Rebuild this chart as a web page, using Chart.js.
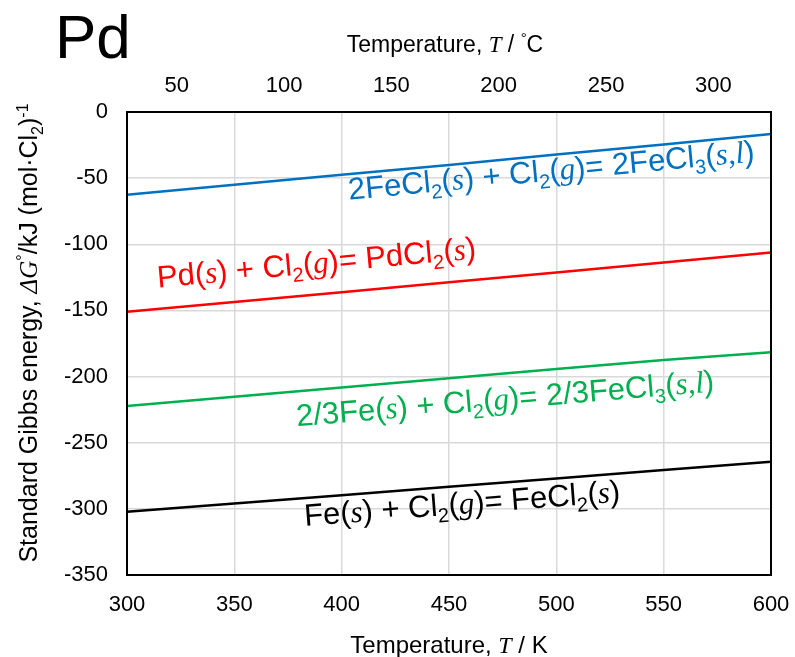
<!DOCTYPE html>
<html>
<head>
<meta charset="utf-8">
<script src="https://cdn.jsdelivr.net/npm/chart.js@4.4.0/dist/chart.umd.min.js"></script>
<style>
    html, body { margin: 0; padding: 0; background: #fff; }
    #wrap { width: 795px; height: 657px; }
</style>
</head>
<body>
<div id="wrap"><canvas id="chart" width="795" height="657"></canvas></div>
<script>
// data (kJ per mol Cl2 vs temperature in K)
const temperatureK = [300, 350, 400, 450, 500, 550, 600];
const feCl2ToFeCl3 = [-62.6, -55, -47.5, -40, -32.2, -24.5, -16.6];
const pdToPdCl2 = [-151, -143.6, -136.2, -128.7, -121.3, -113.8, -106.2];
const feToFeCl3 = [-222.3, -215.3, -208.2, -201.2, -194.3, -187.5, -181.6];
const feToFeCl2 = [-302.2, -296, -289.7, -283.3, -277, -270.6, -264.4];
const celsiusTicks = [50, 100, 150, 200, 250, 300];

const seriesColors = ['#0070C0', '#FF0000', '#00B050', '#000000'];
// reaction text: _x subscript, ^{..} superscript, *..* italic serif
const reactionLabels = [
    '2FeCl_2(*s*) + Cl_2(*g*)= 2FeCl_3(*s,l*)',
    'Pd(*s*) + Cl_2(*g*)= PdCl_2(*s*)',
    '2/3Fe(*s*) + Cl_2(*g*)= 2/3FeCl_3(*s,l*)',
    'Fe(*s*) + Cl_2(*g*)= FeCl_2(*s*)'
];
const labelAnchorK = [403.4, 314.4, 379.2, 382.9];
const labelAnchorG = [-66.4, -132.8, -237.6, -313];

const SANS = '"Liberation Sans", Arial, sans-serif';
const SERIF = '"Liberation Serif", "Times New Roman", serif';

function parseRich(str, size) {
    const parts = [];
    const re = /(\*[^*]+\*|_\{[^}]+\}|_.|\^\{[^}]+\}|\^.|[^*_^]+)/g;
    let m;
    while ((m = re.exec(str)) !== null) {
        const tok = m[0];
        if (tok[0] === '*') {
            parts.push({t: tok.slice(1, -1), f: `italic ${size}px ${SERIF}`, dy: 0});
        } else if (tok[0] === '_') {
            const t = tok[1] === '{' ? tok.slice(2, -1) : tok[1];
            parts.push({t: t, f: `${Math.round(size * 0.65)}px ${SANS}`, dy: size * 0.22});
        } else if (tok[0] === '^') {
            const t = tok[1] === '{' ? tok.slice(2, -1) : tok[1];
            parts.push({t: t, f: `${Math.round(size * 0.65)}px ${SANS}`, dy: -size * 0.38});
        } else {
            parts.push({t: tok, f: `${size}px ${SANS}`, dy: 0});
        }
    }
    return parts;
}

function drawRich(ctx, str, size, x, y, angle, color, align) {
    const parts = parseRich(str, size);
    ctx.save();
    ctx.translate(x, y);
    ctx.rotate(angle);
    ctx.fillStyle = color;
    ctx.textBaseline = 'alphabetic';
    ctx.textAlign = 'left';
    let w = 0;
    parts.forEach(p => { ctx.font = p.f; w += ctx.measureText(p.t).width; });
    let cx = align === 'center' ? -w / 2 : 0;
    parts.forEach(p => {
        ctx.font = p.f;
        ctx.fillText(p.t, cx, p.dy);
        cx += ctx.measureText(p.t).width;
    });
    ctx.restore();
}

const textPlugin = {
    id: 'textPlugin',
    afterDatasetsDraw(chart) {
        const ctx = chart.ctx;
        const a = chart.chartArea;
        const xs = chart.scales.x, ys = chart.scales.y;

        // frame
        ctx.save();
        ctx.strokeStyle = '#000';
        ctx.lineWidth = 2;
        ctx.strokeRect(a.left, a.top, a.right - a.left, a.bottom - a.top);
        ctx.restore();

        // reaction labels, tilted like their lines
        chart.data.datasets.forEach((ds, i) => {
            const d = ds.data;
            const p0x = xs.getPixelForValue(d[0].x), p0y = ys.getPixelForValue(d[0].y);
            const p1x = xs.getPixelForValue(d[d.length - 1].x), p1y = ys.getPixelForValue(d[d.length - 1].y);
            const ang = Math.atan2(p1y - p0y, p1x - p0x);
            drawRich(ctx, reactionLabels[i], 31,
                xs.getPixelForValue(labelAnchorK[i]), ys.getPixelForValue(labelAnchorG[i]),
                ang, seriesColors[i], 'left');
        });

        // titles
        drawRich(ctx, 'Pd', 62, 55, 58, 0, '#000', 'left');
        const cx = (a.left + a.right) / 2;
        drawRich(ctx, 'Temperature, *T* / ^°C', 23, cx - 4, 52, 0, '#000', 'center');
        drawRich(ctx, 'Temperature, *T* / K', 24, cx, 653, 0, '#000', 'center');
        drawRich(ctx, 'Standard Gibbs energy, *ΔG*^°/kJ (mol·Cl_2)^{-1}', 25, 37, 333, -Math.PI / 2, '#000', 'center');
    }
};

const tickFont = {family: SANS, size: 22};
const seriesData = [feCl2ToFeCl3, pdToPdCl2, feToFeCl3, feToFeCl2];

function noSidePad(s) {
    s.paddingLeft = 0;
    s.paddingRight = 0;
}

new Chart(document.getElementById('chart'), {
    type: 'line',
    data: {
        datasets: seriesData.map((vals, i) => ({
            data: temperatureK.map((t, j) => ({x: t, y: vals[j]})),
            borderColor: seriesColors[i],
            borderWidth: 2.5,
            pointRadius: 0,
            tension: 0,
            fill: false
        }))
    },
    options: {
        responsive: false,
        animation: false,
        layout: {padding: {left: 0, right: 24, top: 0, bottom: 0}},
        plugins: {legend: {display: false}, tooltip: {enabled: false}},
        scales: {
            x: {
                type: 'linear', position: 'bottom', min: 300, max: 600,
                ticks: {stepSize: 50, color: '#000', font: tickFont, padding: 17, maxRotation: 0},
                grid: {color: '#d9d9d9', lineWidth: 1.5, drawTicks: false},
                border: {display: false},
                afterFit: s => { s.height = 657 - 575; noSidePad(s); }
            },
            xTop: {
                type: 'linear', position: 'top', min: 300 - 273.15, max: 600 - 273.15,
                afterBuildTicks: s => { s.ticks = celsiusTicks.map(v => ({value: v})); },
                ticks: {color: '#000', font: tickFont, padding: 13, maxRotation: 0},
                grid: {display: false, drawTicks: false},
                border: {display: false},
                afterFit: s => { s.height = 112; noSidePad(s); }
            },
            y: {
                type: 'linear', min: -350, max: 0,
                ticks: {stepSize: 50, color: '#000', font: tickFont, padding: 19},
                grid: {color: '#d9d9d9', lineWidth: 1.5, drawTicks: false},
                border: {display: false},
                afterFit: s => { s.width = 127; }
            }
        }
    },
    plugins: [textPlugin]
});
</script>
</body>
</html>
